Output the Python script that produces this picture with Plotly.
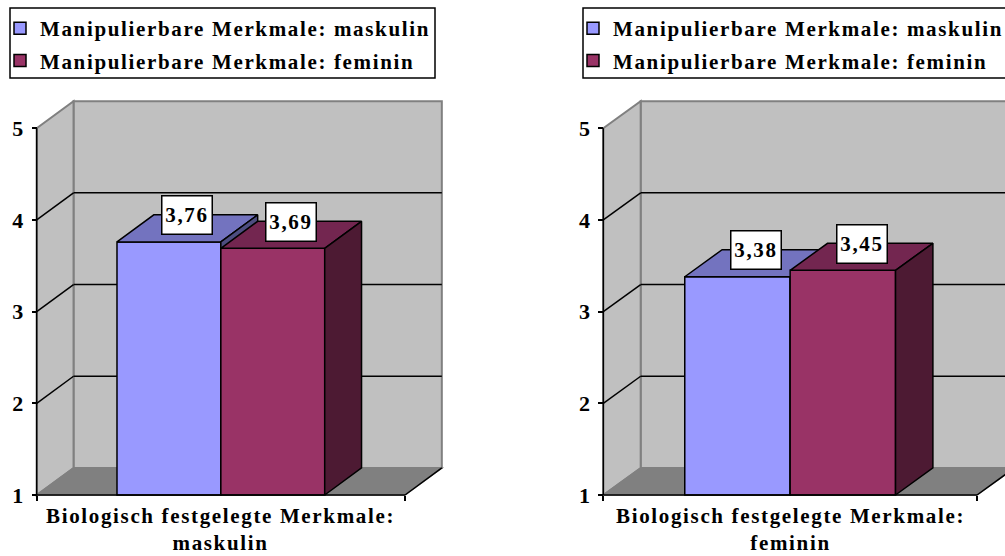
import plotly.graph_objects as go

# ---- data ----
category_lines = [
    ["Biologisch festgelegte Merkmale:", "maskulin"],
    ["Biologisch festgelegte Merkmale:", "feminin"],
]
series_names = ["Manipulierbare Merkmale: maskulin", "Manipulierbare Merkmale: feminin"]
maskulin_values = [3.76, 3.38]   # one value per panel
feminin_values = [3.69, 3.45]
y_tick_values = [1, 2, 3, 4, 5]

# ---- style ----
W, H = 1005, 556
FONT = dict(family="Liberation Serif", size=21, color="black", weight=700)
TICK_FONT = dict(family="Liberation Serif", size=22, color="black", weight=700)
LETTER_SPACING = 1.65
FRONT = ["#9999FF", "#993366"]
TOP = ["#7373BF", "#732650"]
SIDE = ["#4D4D80", "#4D1A33"]
WALL = "#C0C0C0"
FLOOR = "#808080"
EDGE = "#808080"

# pseudo-3D depth offsets in axis units
DX, DY = 0.1, 0.295
BAR_W = 0.282
Y_FLOOR, Y_TOP = 1, 5
Y_LO, Y_HI = 0.97, 5.33
X_LO = -0.03
Y1_PX, Y_UNIT_PX = 495.0, 91.7


def spaced(s):
    return f"<b><span style='letter-spacing:{LETTER_SPACING}px'>{s}</span></b>"


panels = [
    dict(px0=36.7, unit=368.3, x_hi=1.12, base=("x", "y"), over=("x3", "y3"),
         legend="legend", box=(10, 435), legend_x=0),
    dict(px0=603.3, unit=373.7, x_hi=(W - 603.3) / 373.7, base=("x2", "y2"), over=("x4", "y4"),
         legend="legend2", box=(583, 1012), legend_x=573),
]

fig = go.Figure()
shapes, annotations = [], []
y_domain = [(H - (Y1_PX + (Y_FLOOR - Y_LO) * Y_UNIT_PX)) / H,
            (H - (Y1_PX - (Y_HI - Y_FLOOR) * Y_UNIT_PX)) / H]
layout_axes = {}

for i, p in enumerate(panels):
    values = [maskulin_values[i], feminin_values[i]]
    bx, by = p["base"]
    ox, oy = p["over"]
    x_domain = [(p["px0"] + X_LO * p["unit"]) / W, min(1.0, (p["px0"] + p["x_hi"] * p["unit"]) / W)]
    bxn, byn = bx.replace("x", "xaxis"), by.replace("y", "yaxis")
    oxn, oyn = ox.replace("x", "xaxis"), oy.replace("y", "yaxis")

    layout_axes[bxn] = dict(domain=x_domain, range=[X_LO, p["x_hi"]], anchor="free",
                            position=(H - Y1_PX) / H, showgrid=False, zeroline=False,
                            showline=False, tickvals=[0, 1], ticktext=["", ""],
                            ticks="outside", ticklen=5, tickwidth=1.5, tickcolor="black",
                            automargin=False, fixedrange=True)
    layout_axes[byn] = dict(domain=y_domain, range=[Y_LO, Y_HI], anchor="free",
                            position=p["px0"] / W, showgrid=False, zeroline=False,
                            showline=False, tickvals=y_tick_values,
                            ticktext=[f"<b>{t}</b>" for t in y_tick_values], ticks="outside",
                            ticklen=5, tickwidth=1.5, tickcolor="black", tickfont=TICK_FONT,
                            ticklabelstandoff=4, automargin=False, fixedrange=True)
    layout_axes[oxn] = dict(overlaying=bx, matches=bx, anchor=oy, visible=False)
    layout_axes[oyn] = dict(overlaying=by, matches=by, anchor=ox, visible=False)

    # walls and floor
    ref = dict(xref=bx, yref=by, layer="below")
    shapes.append(dict(type="rect", x0=DX, x1=1 + DX, y0=Y_FLOOR + DY, y1=Y_TOP + DY,
                       fillcolor=WALL, line=dict(color=EDGE, width=2), **ref))
    shapes.append(dict(type="path",
                       path=f"M0,{Y_FLOOR} L{DX},{Y_FLOOR + DY} L{DX},{Y_TOP + DY} L0,{Y_TOP} Z",
                       fillcolor=WALL, line=dict(color=EDGE, width=2), **ref))
    shapes.append(dict(type="path",
                       path=f"M0,{Y_FLOOR} L1,{Y_FLOOR} L{1 + DX},{Y_FLOOR + DY} L{DX},{Y_FLOOR + DY} Z",
                       fillcolor=FLOOR, line=dict(color=EDGE, width=1.5), **ref))
    for k in y_tick_values[1:-1]:
        shapes.append(dict(type="line", x0=DX, x1=1 + DX, y0=k + DY, y1=k + DY,
                           line=dict(color="black", width=1.5), **ref))
        shapes.append(dict(type="line", x0=0, x1=DX, y0=k, y1=k + DY,
                           line=dict(color="black", width=1.5), **ref))
    shapes.append(dict(type="line", x0=1, x1=1 + DX, y0=Y_FLOOR, y1=Y_FLOOR + DY,
                       line=dict(color="black", width=1.5), **ref))
    shapes.append(dict(type="line", x0=0, x1=0, y0=Y_FLOOR, y1=Y_TOP,
                       line=dict(color="black", width=1.5), **ref))
    shapes.append(dict(type="line", x0=0, x1=1, y0=Y_FLOOR, y1=Y_FLOOR,
                       line=dict(color="black", width=1.5), xref=bx, yref=by, layer="above"))

    # bars: each series on its own overlaid subplot so the right one is painted on top
    for s, v in enumerate(values):
        xa, ya = (bx, by) if s == 0 else (ox, oy)
        c = 0.5 + (s - 0.5) * BAR_W
        x0, x1 = c - BAR_W / 2, c + BAR_W / 2
        fig.add_bar(x=[c], y=[v - Y_FLOOR], base=Y_FLOOR, width=BAR_W,
                    marker=dict(color=FRONT[s], line=dict(color="black", width=1.5)),
                    name=spaced(series_names[s]), legend=p["legend"], showlegend=True,
                    legendgroup=f"g{s}", xaxis=xa, yaxis=ya, hoverinfo="skip")
        fig.add_scatter(x=[x0, x1, x1 + DX, x0 + DX, x0], y=[v, v, v + DY, v + DY, v],
                        fill="toself", fillcolor=TOP[s], mode="lines",
                        line=dict(color="black", width=1.5), showlegend=False,
                        xaxis=xa, yaxis=ya, hoverinfo="skip")
        fig.add_scatter(x=[x1, x1 + DX, x1 + DX, x1, x1],
                        y=[Y_FLOOR, Y_FLOOR + DY, v + DY, v, Y_FLOOR],
                        fill="toself", fillcolor=SIDE[s], mode="lines",
                        line=dict(color="black", width=1.5), showlegend=False,
                        xaxis=xa, yaxis=ya, hoverinfo="skip")
        annotations.append(dict(x=c + DX / 2, y=v + DY / 2, xref=bx, yref=by, yshift=13,
                                text=spaced(f"{v:.2f}".replace(".", ",")), showarrow=False,
                                font=FONT, bgcolor="white", bordercolor="black",
                                borderwidth=1.5, borderpad=0, width=49, height=37))

    # category label under the floor
    annotations.append(dict(x=0.5, xref=bx, y=(H - 502) / H, yref="paper", yanchor="top",
                            text="<br>".join(spaced(t) for t in category_lines[i]),
                            showarrow=False, font=FONT))

    # legend frame
    shapes.append(dict(type="rect", xref="paper", yref="paper",
                       x0=p["box"][0] / W, x1=p["box"][1] / W, y0=(H - 78) / H, y1=(H - 8) / H,
                       line=dict(color="black", width=1.5), fillcolor="rgba(0,0,0,0)"))

legend_common = dict(font=FONT, bgcolor="rgba(0,0,0,0)", borderwidth=0, xanchor="left",
                     yanchor="top", y=(H - 8) / H, tracegroupgap=2, traceorder="grouped",
                     itemclick=False, itemdoubleclick=False)

fig.update_layout(
    width=W, height=H, margin=dict(l=0, r=0, t=0, b=0, autoexpand=False),
    paper_bgcolor="white", plot_bgcolor="rgba(0,0,0,0)",
    font=FONT, barmode="overlay", showlegend=True,
    legend=dict(x=panels[0]["legend_x"] / W, **legend_common),
    legend2=dict(x=panels[1]["legend_x"] / W, **legend_common),
    shapes=shapes, annotations=annotations,
    **layout_axes,
)

fig.write_html("out.html")
